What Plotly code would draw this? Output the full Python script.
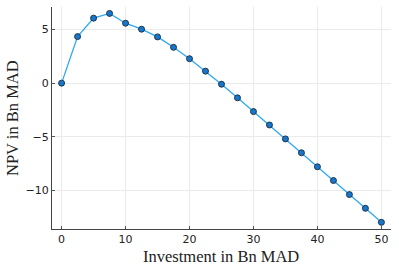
import plotly.graph_objects as go

investment = [0, 2.5, 5, 7.5, 10, 12.5, 15, 17.5, 20, 22.5, 25, 27.5, 30,
              32.5, 35, 37.5, 40, 42.5, 45, 47.5, 50]
npv = [0.0, 4.34, 6.06, 6.5, 5.59, 5.03, 4.31, 3.34, 2.28, 1.12, -0.1, -1.37,
       -2.65, -3.9, -5.2, -6.49, -7.8, -9.08, -10.39, -11.67, -12.98]
x_ticks = [0, 10, 20, 30, 40, 50]
y_ticks = [-10, -5, 0, 5]
y_tick_text = ["\u221210", "\u22125", "0", "5"]
x_title = "Investment in Bn MAD"
y_title = "NPV in Bn MAD"

fig = go.Figure()
fig.add_trace(go.Scatter(
    x=investment, y=npv, mode="lines+markers",
    line=dict(color="#2ea8f5", width=1.3),
    marker=dict(symbol="circle", size=6, color="#1677cc",
                line=dict(color="#1a2a3a", width=0.9)),
    showlegend=False,
))

tick_font = dict(family="DejaVu Sans", size=11, color="#222222")
title_font = dict(family="Liberation Serif", size=16.5, color="#222222")

W, H = 399, 266
L, R, T, B = 52, 8, 7, 37

fig.update_layout(
    width=W, height=H,
    margin=dict(l=L, r=R, t=T, b=B, autoexpand=False),
    paper_bgcolor="white", plot_bgcolor="white",
    xaxis=dict(
        range=[-1.5, 51.5], tickvals=x_ticks, ticks="inside", ticklen=3,
        tickcolor="#555555", showline=True, linecolor="#444444", linewidth=1.2,
        showgrid=True, gridcolor="#ebebeb", gridwidth=1, zeroline=False,
        tickfont=tick_font, automargin=False,
    ),
    yaxis=dict(
        range=[-13.6, 7.1], tickvals=y_ticks, ticktext=y_tick_text,
        ticks="inside", ticklen=3, tickcolor="#555555",
        showline=True, linecolor="#444444", linewidth=1.2,
        showgrid=True, gridcolor="#ebebeb", gridwidth=1, zeroline=False,
        tickfont=tick_font, automargin=False,
    ),
    annotations=[
        dict(text=x_title, xref="paper", yref="paper",
             x=(221 - L) / (W - L - R), y=-(256 - (H - B)) / (H - T - B),
             xanchor="center", yanchor="middle", showarrow=False,
             font=title_font),
        dict(text=y_title, xref="paper", yref="paper",
             x=-(L - 12) / (W - L - R), y=((H - B) - 118) / (H - T - B),
             xanchor="center", yanchor="middle", showarrow=False,
             textangle=-90, font=title_font),
    ],
)

fig.write_html(
    "out.html",
    config={"displayModeBar": False},
    post_script="document.body.style.margin='0px';"
                "document.body.style.overflow='hidden';",
)
